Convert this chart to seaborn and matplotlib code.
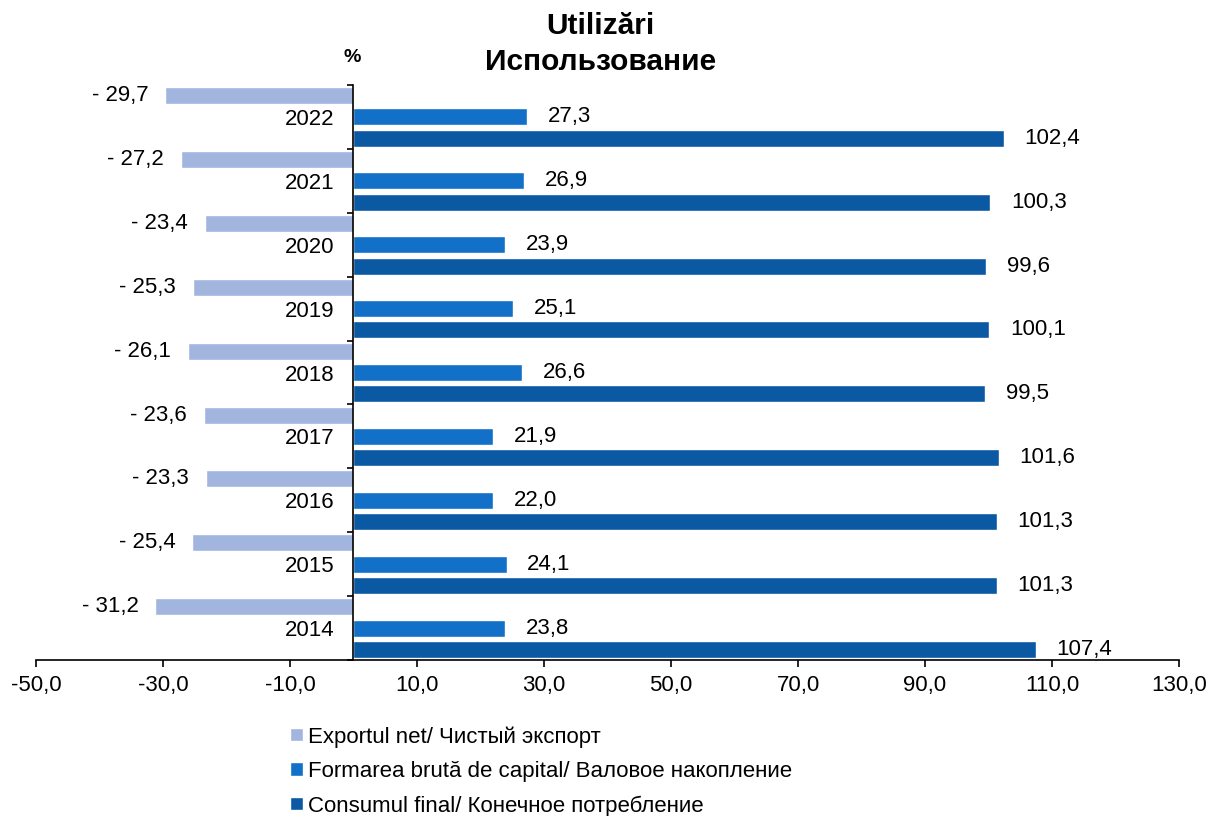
import pandas as pd
import seaborn as sns
import matplotlib.pyplot as plt
from matplotlib.ticker import FixedLocator, FuncFormatter

# Data (2022 at top)
years = ['2022', '2021', '2020', '2019', '2018', '2017', '2016', '2015', '2014']
export_net = [-29.7, -27.2, -23.4, -25.3, -26.1, -23.6, -23.3, -25.4, -31.2]
formarea = [27.3, 26.9, 23.9, 25.1, 26.6, 21.9, 22.0, 24.1, 23.8]
consum = [102.4, 100.3, 99.6, 100.1, 99.5, 101.6, 101.3, 101.3, 107.4]

series_names = ['Exportul net/ Чистый экспорт',
                'Formarea brută de capital/ Валовое накопление',
                'Consumul final/ Конечное потребление']
colors = ['#A2B5DE', '#1270C9', '#0B59A3']

data = pd.DataFrame({
    'Year': years * 3,
    'Value': export_net + formarea + consum,
    'Series': [series_names[0]] * 9 + [series_names[1]] * 9 + [series_names[2]] * 9,
})

sns.set_style('white')
plt.rcParams['font.family'] = ['Liberation Sans', 'DejaVu Sans']
plt.rcParams['font.size'] = 16
plt.rcParams['text.color'] = 'black'
plt.rcParams['xtick.color'] = 'black'
plt.rcParams['ytick.color'] = 'black'

fig = plt.figure(figsize=(12.11, 8.16), dpi=100)
ax = fig.add_axes([0.0297, 0.1912, 0.9439, 0.7046])

sns.barplot(data=data, x='Value', y='Year', hue='Series', order=years,
            hue_order=series_names, palette=colors, orient='h', saturation=1,
            width=1.0, gap=0.2, ax=ax, legend=True)

# value labels
def fmt(v):
    s = f'{abs(v):.1f}'.replace('.', ',')
    return '- ' + s if v < 0 else s

for cont, vals in zip(ax.containers, [export_net, formarea, consum]):
    pad = 12 if vals[0] < 0 else 15
    ax.bar_label(cont, labels=[fmt(v) for v in vals], padding=pad, fontsize=16, color='black')

ax.set_xlim(-50, 130)
ax.set_ylim(8.5, -0.5)
ax.set_xticks(range(-50, 131, 20))
ax.xaxis.set_major_formatter(FuncFormatter(lambda v, p: f'{v:.1f}'.replace('.', ',')))
ax.set_xlabel('')
ax.set_ylabel('')

# y axis at zero, year labels at group centers, ticks at group boundaries
ax.spines['left'].set_position(('data', 0))
ax.spines['top'].set_visible(False)
ax.spines['right'].set_visible(False)
for s in ['left', 'bottom']:
    ax.spines[s].set_color('black')
    ax.spines[s].set_linewidth(1.2)
ax.yaxis.set_minor_locator(FixedLocator([i - 0.5 for i in range(10)]))
ax.tick_params(axis='y', which='major', length=0, pad=14, labelsize=16)
ax.tick_params(axis='y', which='minor', length=4, width=1.2, direction='out', left=True)
ax.tick_params(axis='x', which='major', length=5, width=1.2, direction='out', bottom=True,
               pad=6, labelsize=16)
ax.grid(False)

# legend below the plot
handles, labels = ax.get_legend_handles_labels()
ax.get_legend().remove()
fig.legend(handles, labels, loc='upper left', bbox_to_anchor=(0.2325, 0.121),
           frameon=False, handlelength=0.55, handleheight=0.55,
           handletextpad=0.25, labelspacing=0.6, fontsize=16, borderaxespad=0)

fig.text(0.496, 0.985, 'Utilizări\nИспользование', ha='center', va='top',
         fontsize=21.5, fontweight='bold', linespacing=1.35)
fig.text(0.291, 0.929, '%', ha='center', va='center', fontsize=14, fontweight='bold')

fig.savefig('out.png', dpi=100)
